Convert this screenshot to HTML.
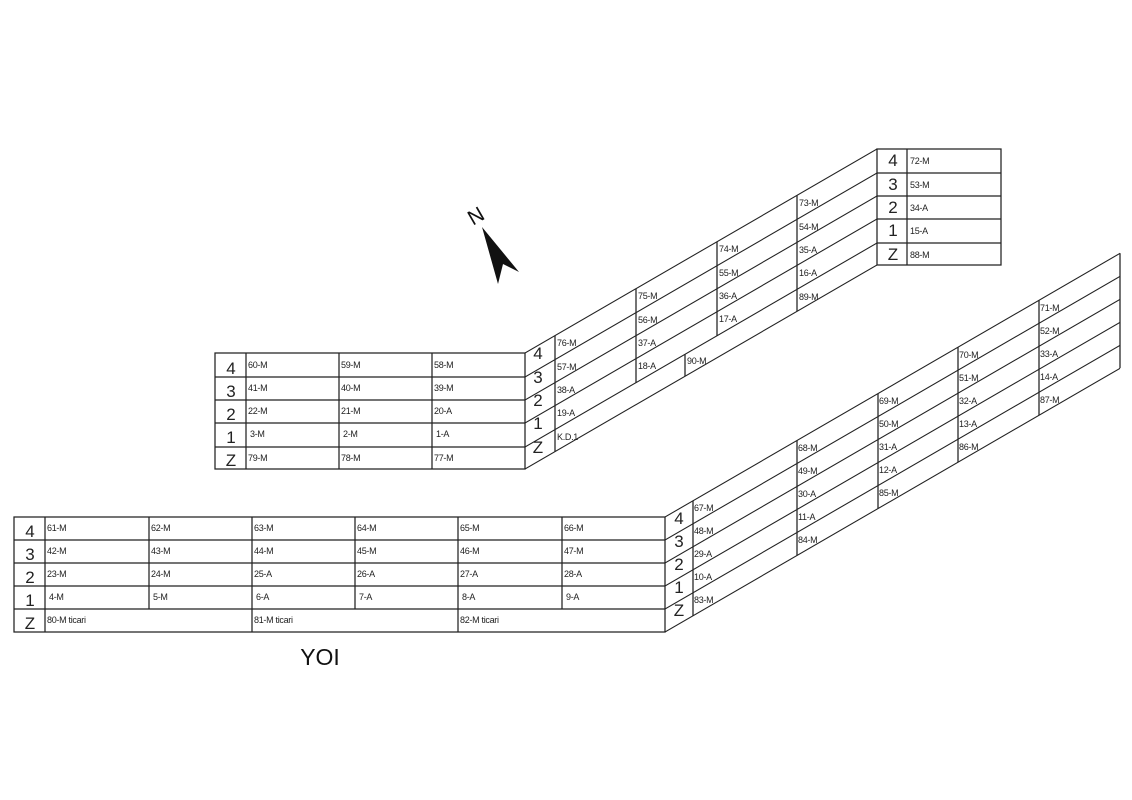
<!DOCTYPE html>
<html><head><meta charset="utf-8"><style>
html,body{margin:0;padding:0;background:#fff;}
svg{display:block;}
text{font-family:"Liberation Sans",sans-serif;fill:#222;}
.s{font-size:9px;letter-spacing:-0.3px;}
.b{font-size:17px;text-anchor:middle;font-family:"Liberation Sans Narrow","Liberation Sans",sans-serif;}
</style></head><body>
<svg width="1132" height="800" viewBox="0 0 1132 800" xmlns="http://www.w3.org/2000/svg">
<g stroke="#222" stroke-width="1.25" fill="none">
<rect x="215" y="353" width="310" height="116"/>
<line x1="215" y1="377" x2="525" y2="377"/><line x1="215" y1="400" x2="525" y2="400"/>
<line x1="215" y1="423" x2="525" y2="423"/><line x1="215" y1="447" x2="525" y2="447"/>
<line x1="246" y1="353" x2="246" y2="469"/><line x1="339" y1="353" x2="339" y2="469"/><line x1="432" y1="353" x2="432" y2="469"/>
<rect x="877" y="149" width="124" height="116"/>
<line x1="877" y1="173" x2="1001" y2="173"/><line x1="877" y1="196" x2="1001" y2="196"/>
<line x1="877" y1="219" x2="1001" y2="219"/><line x1="877" y1="243" x2="1001" y2="243"/>
<line x1="907" y1="149" x2="907" y2="265"/>
<g transform="matrix(1,-0.5795,0,1,525,0)">
<line x1="0" y1="353" x2="352" y2="353"/><line x1="0" y1="377" x2="352" y2="377"/>
<line x1="0" y1="400" x2="352" y2="400"/><line x1="0" y1="423" x2="352" y2="423"/>
<line x1="0" y1="447" x2="352" y2="447"/><line x1="0" y1="469" x2="352" y2="469"/>
<line x1="30" y1="353" x2="30" y2="469"/>
<line x1="111" y1="353" x2="111" y2="447"/>
<line x1="160" y1="447" x2="160" y2="469"/>
<line x1="192" y1="353" x2="192" y2="447"/>
<line x1="272" y1="353" x2="272" y2="469"/>
</g>
<rect x="14" y="517" width="651" height="115"/>
<line x1="14" y1="540" x2="665" y2="540"/><line x1="14" y1="563" x2="665" y2="563"/>
<line x1="14" y1="586" x2="665" y2="586"/><line x1="14" y1="609" x2="665" y2="609"/>
<line x1="45" y1="517" x2="45" y2="632"/><line x1="252" y1="517" x2="252" y2="632"/><line x1="458" y1="517" x2="458" y2="632"/>
<line x1="149" y1="517" x2="149" y2="609"/><line x1="355" y1="517" x2="355" y2="609"/><line x1="562" y1="517" x2="562" y2="609"/>
<g transform="matrix(1,-0.5795,0,1,665,0)">
<line x1="0" y1="517" x2="455" y2="517"/><line x1="0" y1="540" x2="455" y2="540"/>
<line x1="0" y1="563" x2="455" y2="563"/><line x1="0" y1="586" x2="455" y2="586"/>
<line x1="0" y1="609" x2="455" y2="609"/><line x1="0" y1="632" x2="455" y2="632"/>
<line x1="28" y1="517" x2="28" y2="632"/><line x1="132" y1="517" x2="132" y2="632"/>
<line x1="213" y1="517" x2="213" y2="632"/><line x1="293" y1="517" x2="293" y2="632"/>
<line x1="374" y1="517" x2="374" y2="632"/><line x1="455" y1="517" x2="455" y2="632"/>
</g>
</g>
<polygon points="482,227 519,272 503,264 498,284" fill="#111"/>
<text x="476" y="223" font-size="21" transform="rotate(-30 476 216)" text-anchor="middle" style="fill:#111">N</text>
<text x="320" y="665" font-size="23" text-anchor="middle" style="fill:#111">YOI</text>

<g class="b"><text x="231" y="374">4</text><text x="231" y="397">3</text><text x="231" y="420">2</text><text x="231" y="443">1</text><text x="231" y="466">Z</text></g>
<g class="s">
<text x="248" y="368">60-M</text><text x="341" y="368">59-M</text><text x="434" y="368">58-M</text>
<text x="248" y="391">41-M</text><text x="341" y="391">40-M</text><text x="434" y="391">39-M</text>
<text x="248" y="414">22-M</text><text x="341" y="414">21-M</text><text x="434" y="414">20-A</text>
<text x="250" y="437">3-M</text><text x="343" y="437">2-M</text><text x="436" y="437">1-A</text>
<text x="248" y="461">79-M</text><text x="341" y="461">78-M</text><text x="434" y="461">77-M</text>
</g>
<g class="b"><text x="893" y="166">4</text><text x="893" y="190">3</text><text x="893" y="213">2</text><text x="893" y="236">1</text><text x="893" y="260">Z</text></g>
<g class="s"><text x="910" y="164">72-M</text><text x="910" y="188">53-M</text><text x="910" y="211">34-A</text><text x="910" y="234">15-A</text><text x="910" y="258">88-M</text></g>
<g class="b"><text x="538" y="359">4</text><text x="538" y="383">3</text><text x="538" y="406">2</text><text x="538" y="429">1</text><text x="538" y="453">Z</text></g>
<g class="s">
<text x="557" y="346">76-M</text><text x="557" y="370">57-M</text><text x="557" y="393">38-A</text><text x="557" y="416">19-A</text><text x="557" y="440">K.D.1</text>
<text x="638" y="299">75-M</text><text x="638" y="323">56-M</text><text x="638" y="346">37-A</text><text x="638" y="369">18-A</text>
<text x="687" y="364">90-M</text>
<text x="719" y="252">74-M</text><text x="719" y="276">55-M</text><text x="719" y="299">36-A</text><text x="719" y="322">17-A</text>
<text x="799" y="206">73-M</text><text x="799" y="230">54-M</text><text x="799" y="253">35-A</text><text x="799" y="276">16-A</text><text x="799" y="300">89-M</text>
</g>
<g class="b"><text x="30" y="537">4</text><text x="30" y="560">3</text><text x="30" y="583">2</text><text x="30" y="606">1</text><text x="30" y="629">Z</text></g>
<g class="s">
<text x="47" y="531">61-M</text><text x="151" y="531">62-M</text><text x="254" y="531">63-M</text><text x="357" y="531">64-M</text><text x="460" y="531">65-M</text><text x="564" y="531">66-M</text>
<text x="47" y="554">42-M</text><text x="151" y="554">43-M</text><text x="254" y="554">44-M</text><text x="357" y="554">45-M</text><text x="460" y="554">46-M</text><text x="564" y="554">47-M</text>
<text x="47" y="577">23-M</text><text x="151" y="577">24-M</text><text x="254" y="577">25-A</text><text x="357" y="577">26-A</text><text x="460" y="577">27-A</text><text x="564" y="577">28-A</text>
<text x="49" y="600">4-M</text><text x="153" y="600">5-M</text><text x="256" y="600">6-A</text><text x="359" y="600">7-A</text><text x="462" y="600">8-A</text><text x="566" y="600">9-A</text>
<text x="47" y="623">80-M ticari</text><text x="254" y="623">81-M ticari</text><text x="460" y="623">82-M ticari</text>
</g>
<g class="b"><text x="679" y="524">4</text><text x="679" y="547">3</text><text x="679" y="570">2</text><text x="679" y="593">1</text><text x="679" y="616">Z</text></g>
<g class="s">
<text x="694" y="511">67-M</text><text x="694" y="534">48-M</text><text x="694" y="557">29-A</text><text x="694" y="580">10-A</text><text x="694" y="603">83-M</text>
<text x="798" y="451">68-M</text><text x="798" y="474">49-M</text><text x="798" y="497">30-A</text><text x="798" y="520">11-A</text><text x="798" y="543">84-M</text>
<text x="879" y="404">69-M</text><text x="879" y="427">50-M</text><text x="879" y="450">31-A</text><text x="879" y="473">12-A</text><text x="879" y="496">85-M</text>
<text x="959" y="358">70-M</text><text x="959" y="381">51-M</text><text x="959" y="404">32-A</text><text x="959" y="427">13-A</text><text x="959" y="450">86-M</text>
<text x="1040" y="311">71-M</text><text x="1040" y="334">52-M</text><text x="1040" y="357">33-A</text><text x="1040" y="380">14-A</text><text x="1040" y="403">87-M</text>
</g>
</svg>
</body></html>
